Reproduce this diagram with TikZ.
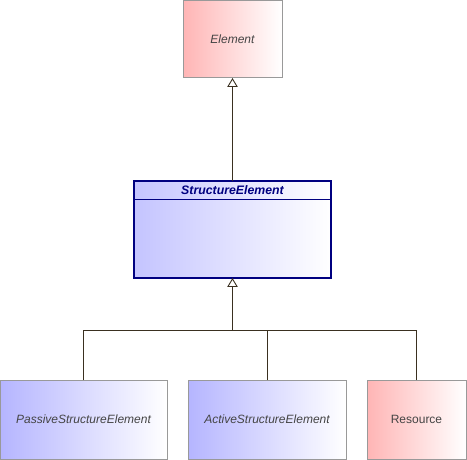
\documentclass[tikz,border=0pt]{standalone}
\usepackage{fontspec}
\setmainfont{Liberation Sans}
\usetikzlibrary{arrows.meta}
\definecolor{pinkl}{HTML}{FFB5B5}
\definecolor{bluel}{HTML}{B5B5FF}
\definecolor{bluese}{HTML}{C4C4FF}
\definecolor{boxgray}{HTML}{999999}
\definecolor{txtgray}{HTML}{444444}
\definecolor{navy}{HTML}{000080}
\definecolor{linec}{HTML}{3A3020}
\tikzset{
  elem/.style={draw=boxgray, line width=1pt, inner sep=0pt, outer sep=0pt,
    font=\fontsize{12}{14}\selectfont\itshape, text=txtgray},
  pinkbox/.style={elem, left color=pinkl, right color=white},
  bluebox/.style={elem, left color=bluel, right color=white},
  conn/.style={draw=linec, line width=0.9pt},
  gen/.style={conn, -{Triangle[open, length=9pt, width=10.5pt, fill=white]}}
}
\begin{document}
\begin{tikzpicture}[x=1pt,y=1pt]
\useasboundingbox (0,0) rectangle (467,-460);
\node[pinkbox, minimum width=99, minimum height=77] (E) at (232.5,-39.5) {Element};
\node[draw=navy, line width=1.2pt, left color=bluese, right color=white, inner sep=0pt, outer sep=0pt,
  minimum width=197, minimum height=97] (S) at (232.5,-229.5) {};
\node[font=\fontsize{12.3}{14}\selectfont\bfseries\itshape, text=navy, anchor=center] (St) at (232.5,-190) {StructureElement};
\coordinate (hl) at (134,-200);
\coordinate (hr) at (331,-200);
\draw[navy, line width=1pt] (hl) -- (hr);
\node[bluebox, minimum width=167, minimum height=79] (P) at (83.5,-419.5) {PassiveStructureElement};
\node[bluebox, minimum width=158, minimum height=79] (A) at (267,-419.5) {ActiveStructureElement};
\node[pinkbox, font=\fontsize{12}{14}\selectfont, minimum width=99, minimum height=79] (R) at (416.5,-419.5) {Resource};
\draw[gen] (S.north) -- (E.south);
\coordinate (j) at (232.5,-330);
\draw[gen] (j) -- (S.south);
\draw[conn] (P.north) |- (j);
\draw[conn] (A.north) |- (j);
\draw[conn] (R.north) |- (j);
\end{tikzpicture}
\end{document}
